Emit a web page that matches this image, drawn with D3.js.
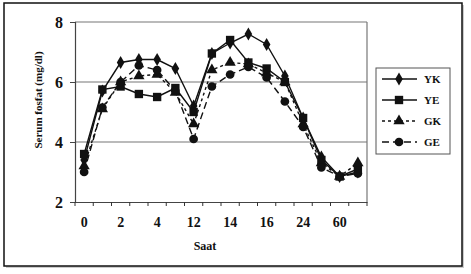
<!DOCTYPE html>
<html>
<head>
<meta charset="utf-8">
<script src="https://cdn.jsdelivr.net/npm/d3@7"></script>
<style>
  body { margin: 0; background: #fff; }
  svg text { font-family: "Liberation Serif", "Times New Roman", serif; font-weight: bold; fill: #111; }
</style>
</head>
<body>
<div id="chart"></div>
<script>
// x categories (hours); only every other one is labelled in the original
let tickLabels = ["0", "", "2", "", "4", "", "12", "", "14", "", "16", "", "24", "", "60", ""];
let seriesNames = ["YK", "YE", "GK", "GE"];

let yk = [3.4, 5.7, 6.65, 6.75, 6.75, 6.45, 5.2, 6.95, 7.3, 7.6, 7.25, 6.2, 4.8, 3.5, 2.85, 3.0];
let ye = [3.6, 5.75, 5.85, 5.6, 5.5, 5.8, 5.0, 6.95, 7.4, 6.65, 6.45, 6.0, 4.8, 3.4, 2.85, 3.1];
let gk = [3.2, 5.1, 6.0, 6.2, 6.25, 5.65, 4.6, 6.4, 6.65, 6.6, 6.3, 6.0, 4.6, 3.3, 2.85, 3.3];
let ge = [3.0, 5.15, 6.0, 6.55, 6.4, 5.7, 4.1, 5.85, 6.25, 6.5, 6.15, 5.35, 4.5, 3.15, 2.85, 2.95];

let yTicks = [2, 4, 6, 8];

let series = [
  { name: seriesNames[0], values: yk, symbol: d3.symbolDiamond, size: 50, dash: null },
  { name: seriesNames[1], values: ye, symbol: d3.symbolSquare, size: 70, dash: null },
  { name: seriesNames[2], values: gk, symbol: d3.symbolTriangle, size: 55, dash: "3,3" },
  { name: seriesNames[3], values: ge, symbol: d3.symbolCircle, size: 60, dash: "7,4" }
];

let W = 471, H = 274;
let margin = { left: 75, top: 22, right: 104, bottom: 72 };
let width = W - margin.left - margin.right,
  height = H - margin.top - margin.bottom;

let svg = d3.select("#chart").append("svg").attr("width", W).attr("height", H);

// outer frame with a light shadow
svg.append("rect").attr("x", 6).attr("y", 5).attr("width", 458).attr("height", 263)
  .attr("fill", "#ccc");
svg.append("rect").attr("x", 4).attr("y", 3).attr("width", 458).attr("height", 263)
  .attr("fill", "#fff").attr("stroke", "#111").attr("stroke-width", 1.5);

let g = svg.append("g").attr("transform", "translate(" + margin.left + "," + margin.top + ")");

let xScale = d3.scaleBand().domain(d3.range(tickLabels.length)).range([0, width]);
let yScale = d3.scaleLinear().domain([2, 8]).range([height, 0]);

// gridlines
g.selectAll("line.grid")
  .data(yTicks.filter((d) => d > 2))
  .enter()
  .append("line")
  .attr("class", "grid")
  .attr("x1", 0).attr("x2", width)
  .attr("y1", (d) => yScale(d)).attr("y2", (d) => yScale(d))
  .attr("stroke", "#777").attr("stroke-width", 1.2);

g.append("line").attr("x1", width).attr("x2", width).attr("y1", 0).attr("y2", height)
  .attr("stroke", "#777").attr("stroke-width", 1.2);

let yAxis = d3.axisLeft(yScale).tickValues(yTicks).tickFormat(d3.format("d")).tickSize(5).tickPadding(7);
let yg = g.append("g").call(yAxis);
yg.selectAll("text").style("font-size", "16px");

let xAxis = d3.axisBottom(xScale).tickFormat((i) => tickLabels[i]).tickSize(0).tickPadding(15);
let xg = g.append("g").attr("transform", "translate(0," + height + ")").call(xAxis);
xg.selectAll("text").style("font-size", "14px");

// band boundary ticks
xg.selectAll("line.bt")
  .data(d3.range(tickLabels.length + 1))
  .enter()
  .append("line")
  .attr("class", "bt")
  .attr("x1", (i) => i * xScale.step()).attr("x2", (i) => i * xScale.step())
  .attr("y1", 0).attr("y2", 4)
  .attr("stroke", "#333");

g.selectAll(".domain").attr("stroke", "#444").attr("stroke-width", 1.2);
g.selectAll(".tick line").attr("stroke", "#444");

let line = d3.line()
  .x((d, i) => xScale(i) + xScale.bandwidth() / 2)
  .y((d) => yScale(d));

series.forEach(function (s) {
  g.append("path")
    .datum(s.values)
    .attr("d", line)
    .attr("fill", "none")
    .attr("stroke", "#111")
    .attr("stroke-width", 1.4)
    .attr("stroke-dasharray", s.dash);
  g.selectAll(null)
    .data(s.values)
    .enter()
    .append("path")
    .attr("d", d3.symbol().type(s.symbol).size(s.size))
    .attr("transform", (d, i) => "translate(" + (xScale(i) + xScale.bandwidth() / 2) + "," + yScale(d) + ")")
    .attr("fill", "#111");
});

// axis titles
svg.append("text")
  .attr("x", 205).attr("y", 250)
  .attr("text-anchor", "middle")
  .style("font-size", "12px")
  .text("Saat");

svg.append("text")
  .attr("transform", "translate(42,100) rotate(-90)")
  .attr("text-anchor", "middle")
  .style("font-size", "11px")
  .text("Serum fosfat (mg/dl)");

// legend
let legend = svg.append("g").attr("transform", "translate(376,68)");
legend.append("rect").attr("width", 74).attr("height", 86)
  .attr("fill", "#fff").attr("stroke", "#555").attr("stroke-width", 1);

let legendY = d3.scalePoint().domain(seriesNames).range([11, 74]);

series.forEach(function (s) {
  let row = legend.append("g").attr("transform", "translate(0," + legendY(s.name) + ")");
  row.append("line").attr("x1", 6).attr("x2", 41)
    .attr("stroke", "#111").attr("stroke-width", 1.4)
    .attr("stroke-dasharray", s.dash);
  row.append("path").attr("d", d3.symbol().type(s.symbol).size(s.size))
    .attr("transform", "translate(23,0)").attr("fill", "#111");
  row.append("text").attr("x", 48).attr("y", 4)
    .style("font-size", "11px")
    .text(s.name);
});
</script>
</body>
</html>
